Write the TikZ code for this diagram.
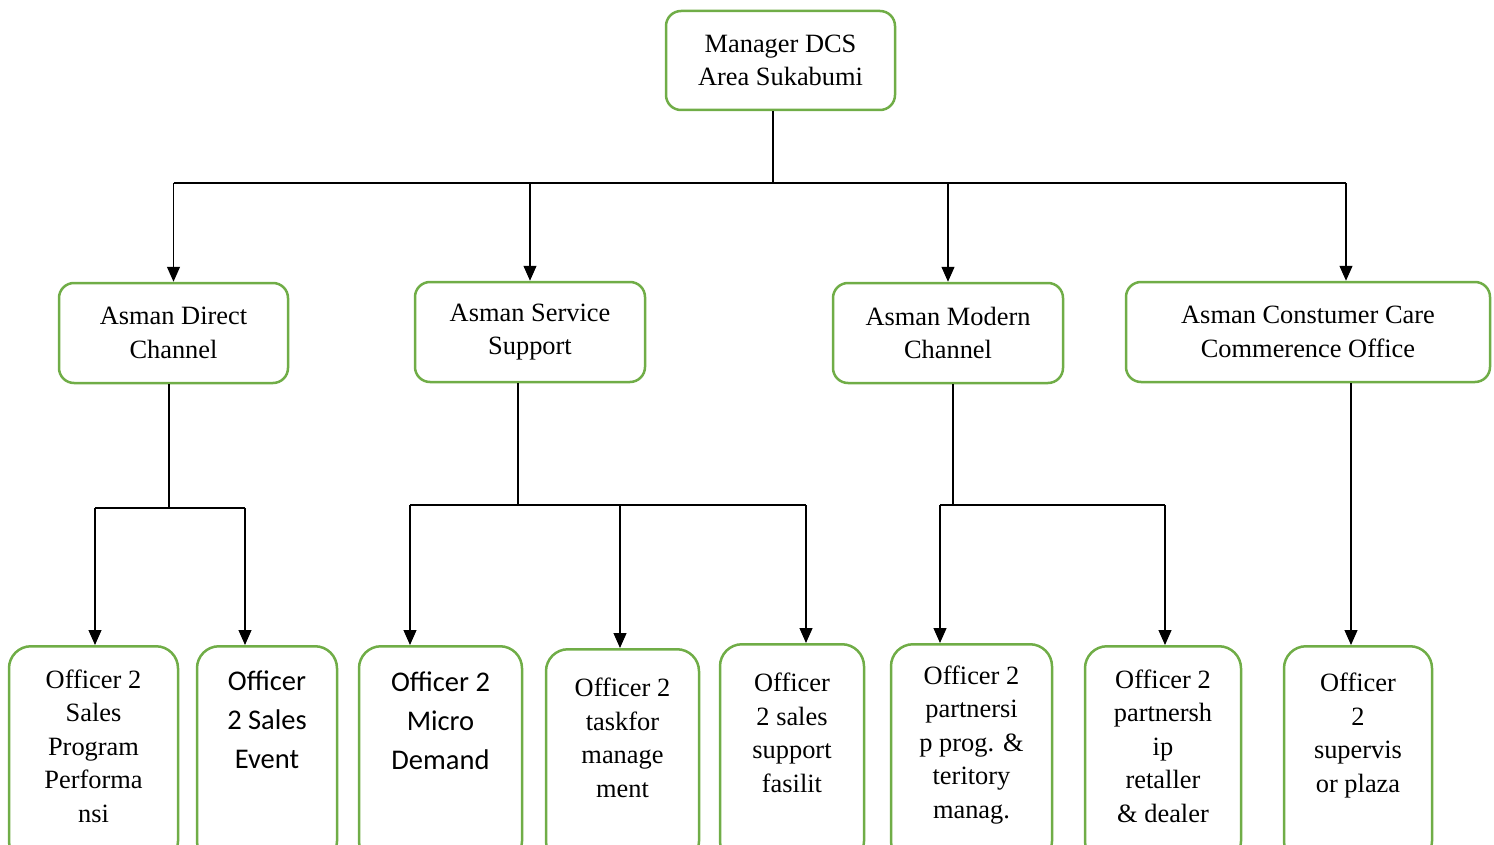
\documentclass[tikz,border=0pt]{standalone}
\usepackage{fontspec}
\setmainfont{Liberation Serif}
\newfontfamily\calibri{Carlito}
\usetikzlibrary{arrows.meta}
\definecolor{boxgreen}{HTML}{70AD47}
\tikzset{
  topbox/.style={draw=boxgreen, line width=2.5pt, rounded corners=15pt, inner sep=0pt, align=center,
                 font=\fontsize{26.4}{33.5}\selectfont},
  botbox/.style={draw=boxgreen, line width=2.5pt, rounded corners=22pt, inner sep=0pt, anchor=north},
  serift/.style={inner sep=0pt, align=center, font=\fontsize{26.4}{33.5}\selectfont},
  sanst/.style={inner sep=0pt, align=center, font=\calibri\fontsize{28.5}{39}\selectfont},
  ln/.style={line width=1.2pt, black},
  arr/.style={ln, -{Triangle[length=15pt,width=13pt]}}
}
\begin{document}
\begin{tikzpicture}[x=1pt,y=-1pt]
\useasboundingbox (0,0) rectangle (1494,845);
\clip (0,0) rectangle (1494,845);

% top level
\node[topbox, minimum width=229pt, minimum height=99pt] (mgr) at (780.5,60.5) {Manager DCS\\Area Sukabumi};

% second level
\node[topbox, minimum width=229pt, minimum height=100pt] (ad) at (173.5,333) {Asman Direct\\Channel};
\node[topbox, minimum width=230pt, minimum height=100pt] (as) at (530,332) {Asman Service\\Support};
\node[topbox, minimum width=230pt, minimum height=100pt] (am) at (948,333) {Asman Modern\\Channel};
\node[topbox, minimum width=364pt, minimum height=100pt] (cc) at (1308,332) {Asman Constumer Care\\Commerence Office};

% third level boxes
\node[botbox, minimum width=169pt, minimum height=217pt] (b1) at (93.5,645) {};
\node[botbox, minimum width=140pt, minimum height=217pt] (b2) at (267,645) {};
\node[botbox, minimum width=163pt, minimum height=217pt] (b3) at (440.5,645) {};
\node[botbox, minimum width=153pt, minimum height=214pt] (b4) at (622.5,648) {};
\node[botbox, minimum width=144pt, minimum height=219pt] (b5) at (792,643) {};
\node[botbox, minimum width=161pt, minimum height=219pt] (b6) at (971.5,643) {};
\node[botbox, minimum width=156pt, minimum height=217pt] (b7) at (1163,645) {};
\node[botbox, minimum width=148pt, minimum height=217pt] (b8) at (1358,645) {};

% third level texts
\node[serift] (b1t) at (93.5,746) {Officer 2\\Sales\\Program\\Performa\\nsi};
\node[sanst]  (b2t) at (267,720) {Officer\\2 Sales\\Event};
\node[sanst]  (b3t) at (440.5,721) {Officer 2\\Micro\\Demand};
\node[serift] (b4t) at (622.5,738) {Officer 2\\taskfor\\manage\\ment};
\node[serift] (b5t) at (792,733) {Officer\\2 sales\\support\\fasilit};
\node[serift] (b6t) at (971.5,745) {Officer 2\\partnersi\\p prog. \&\\teritory\\manag.};
\node[serift] (b7t) at (1163,746) {Officer 2\\partnersh\\ip\\retaller\\\& dealer};
\node[serift] (b8t) at (1358,735.5) {Officer\\2\\supervis\\or plaza};

% junction coordinates
\coordinate (t0) at (773,183);
\coordinate (cca) at (1346,183);
\coordinate (t1) at (169,508);
\coordinate (a1) at (95,508);
\coordinate (a2) at (245,508);
\coordinate (t2) at (518,505);
\coordinate (s1) at (410,505);
\coordinate (s2) at (620,505);
\coordinate (s3) at (806,505);
\coordinate (t3) at (953,505);
\coordinate (m1) at (940,505);
\coordinate (m2) at (1165,505);
\coordinate (t4) at (1351,382);

% manager to second level
\draw[ln] (mgr.south -| t0) -- (t0);
\draw[ln] (ad.north |- t0) -- (cca);
\draw[arr] (ad.north |- t0) -- (ad.north);
\draw[arr] (as.north |- t0) -- (as.north);
\draw[arr] (am.north |- t0) -- (am.north);
\draw[arr] (cca) -- (cca |- cc.north);

% Asman Direct
\draw[ln] (ad.south -| t1) -- (t1);
\draw[ln] (a1) -- (a2);
\draw[arr] (a1) -- (a1 |- b1.north);
\draw[arr] (a2) -- (a2 |- b2.north);

% Asman Service
\draw[ln] (as.south -| t2) -- (t2);
\draw[ln] (s1) -- (s3);
\draw[arr] (s1) -- (s1 |- b3.north);
\draw[arr] (s2) -- (s2 |- b4.north);
\draw[arr] (s3) -- (s3 |- b5.north);

% Asman Modern
\draw[ln] (am.south -| t3) -- (t3);
\draw[ln] (m1) -- (m2);
\draw[arr] (m1) -- (m1 |- b6.north);
\draw[arr] (m2) -- (m2 |- b7.north);

% Asman Constumer Care
\draw[arr] (cc.south -| t4) -- (t4 |- b8.north);
\end{tikzpicture}
\end{document}
